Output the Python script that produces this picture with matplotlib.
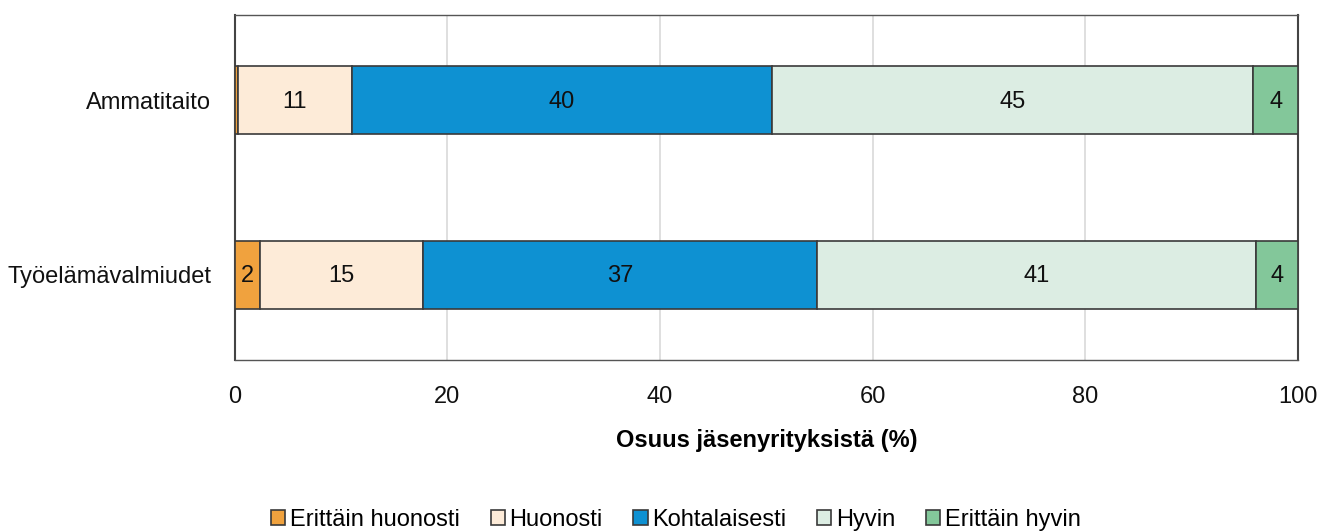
import matplotlib
matplotlib.use("Agg")
import matplotlib.pyplot as plt
import numpy as np

plt.rcParams['font.family'] = ['Liberation Sans', 'DejaVu Sans']

categories = ["Ammatitaito", "Työelämävalmiudet"]
series_names = ["Erittäin huonosti", "Huonosti", "Kohtalaisesti", "Hyvin", "Erittäin hyvin"]
erittain_huonosti = [0.3, 2.35]
huonosti = [10.7, 15.35]
kohtalaisesti = [39.5, 37.05]
hyvin = [45.3, 41.3]
erittain_hyvin = [4.2, 3.95]
labels = [["", "11", "40", "45", "4"], ["2", "15", "37", "41", "4"]]
colors = ["#F0A23E", "#FDEBD8", "#0E91D2", "#DCEDE3", "#83C79A"]

series = [erittain_huonosti, huonosti, kohtalaisesti, hyvin, erittain_hyvin]

FS = 17

fig = plt.figure(figsize=(13.19, 5.31), dpi=100)
ax = fig.add_axes([0.178, 0.322, 0.806, 0.65])

y = np.arange(len(categories))
left = np.zeros(len(categories))
for i, (name, vals) in enumerate(zip(series_names, series)):
    bars = ax.barh(y, vals, left=left, height=0.39, color=colors[i],
                   edgecolor="#3a3a3a", linewidth=1.2, label=name, zorder=3)
    for j, b in enumerate(bars):
        txt = labels[j][i]
        if txt:
            ax.text(left[j] + vals[j] / 2, y[j] + 0.01, txt, ha="center", va="center",
                    fontsize=FS, color="#111111", zorder=4)
    left += np.array(vals)

ax.set_xlim(0, 100)
ax.set_ylim(1.49, -0.49)
ax.set_yticks(y)
ax.set_yticklabels(categories, fontsize=FS)
ax.set_xticks([0, 20, 40, 60, 80, 100])
ax.tick_params(axis="both", length=0, labelsize=FS, colors="#111111")
ax.tick_params(axis="x", pad=19)
ax.tick_params(axis="y", pad=17)
ax.xaxis.grid(True, color="#d9d9d9", linewidth=1.2, zorder=0)
ax.set_axisbelow(True)
for s in ["left", "right"]:
    ax.spines[s].set_color("#444444")
    ax.spines[s].set_linewidth(1.5)
for s in ["top", "bottom"]:
    ax.spines[s].set_color("#555555")
    ax.spines[s].set_linewidth(1.0)

ax.set_xlabel("Osuus jäsenyrityksistä (%)", fontsize=FS, fontweight="bold", labelpad=15)

handles, lbls = ax.get_legend_handles_labels()
fig.legend(handles, lbls, loc="lower center", bbox_to_anchor=(0.5125, -0.04), ncol=5,
           frameon=False, fontsize=FS, handlelength=0.6, handleheight=0.6,
           handletextpad=0.2, columnspacing=1.3)

fig.savefig("out.png", dpi=100)
